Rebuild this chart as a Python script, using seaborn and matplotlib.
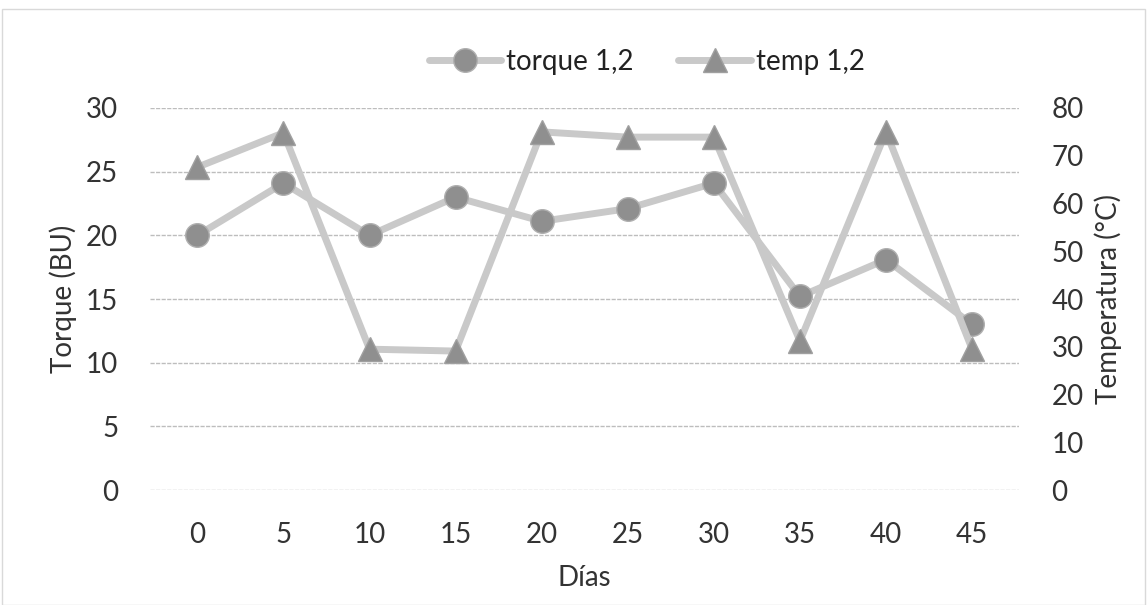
import seaborn as sns
import matplotlib.pyplot as plt
import pandas as pd
from matplotlib.lines import Line2D

sns.set_theme(style="white")
plt.rcParams['font.family'] = ['Lato', 'DejaVu Sans']

dias = ["0", "5", "10", "15", "20", "25", "30", "35", "40", "45"]
torque = [20.0, 24.1, 20.0, 23.0, 21.1, 22.1, 24.1, 15.2, 18.1, 13.0]
temp = [67.6, 74.8, 29.5, 29.1, 75.0, 73.9, 73.9, 31.2, 75.0, 29.5]

df = pd.DataFrame({"pos": range(len(dias)), "Días": dias,
                   "torque": torque, "temp": temp})

line_col = "#c9c9c9"
mark_col = "#8f8f8f"
txt = "#333333"
fs = 20

fig = plt.figure(figsize=(11.47, 6.05), dpi=100)
ax = fig.add_axes([0.1308, 0.19, 0.758, 0.6315])
ax2 = ax.twinx()

sns.lineplot(data=df, x="pos", y="torque", ax=ax, color=line_col, lw=5,
             marker="o", markersize=17, markerfacecolor=mark_col,
             markeredgecolor="#b0b0b0", markeredgewidth=1, zorder=3)
sns.lineplot(data=df, x="pos", y="temp", ax=ax2, color=line_col, lw=5,
             marker="^", markersize=17, markerfacecolor=mark_col,
             markeredgecolor="#a0a0a0", markeredgewidth=1, zorder=3)

ax.set_xlim(-0.55, len(dias) - 0.45)
ax.set_ylim(0, 30)
ax2.set_ylim(0, 80)
ax.set_yticks(range(0, 31, 5))
ax2.set_yticks(range(0, 81, 10))
ax.set_xticks(range(len(dias)))
ax.set_xticklabels(dias)

ax.yaxis.grid(True, color="#bdbdbd", lw=1, ls=(0, (3, 1)))
ax.set_axisbelow(True)
for a in (ax, ax2):
    for s in a.spines.values():
        s.set_visible(False)
    a.tick_params(length=0, labelsize=fs, colors=txt)
ax.tick_params(axis="y", pad=23)
ax.tick_params(axis="x", pad=23)
ax2.tick_params(axis="y", pad=23)

ax.set_xlabel("Días", fontsize=fs, color=txt, labelpad=12)
ax.set_ylabel("Torque (BU)", fontsize=fs, color=txt, labelpad=6)
ax2.set_ylabel("Temperatura (°C)", fontsize=fs, color=txt, labelpad=8)

handles = [
    Line2D([], [], color=line_col, lw=5, marker="o", markersize=17,
           markerfacecolor=mark_col, markeredgecolor="#b0b0b0"),
    Line2D([], [], color=line_col, lw=5, marker="^", markersize=17,
           markerfacecolor=mark_col, markeredgecolor="#a0a0a0"),
]
fig.legend(handles, ["torque 1,2", "temp 1,2"], loc="center",
           bbox_to_anchor=(0.564, 0.898), ncol=2, frameon=False,
           fontsize=fs, handlelength=2.6, columnspacing=1.6,
           handletextpad=0.2, labelcolor="#222222")

fig.patches.append(plt.Rectangle((0.002, 0.0), 0.996, 0.985,
                                 transform=fig.transFigure, fill=False,
                                 edgecolor="#d9d9d9", lw=1))

fig.savefig("out.png", dpi=100)
